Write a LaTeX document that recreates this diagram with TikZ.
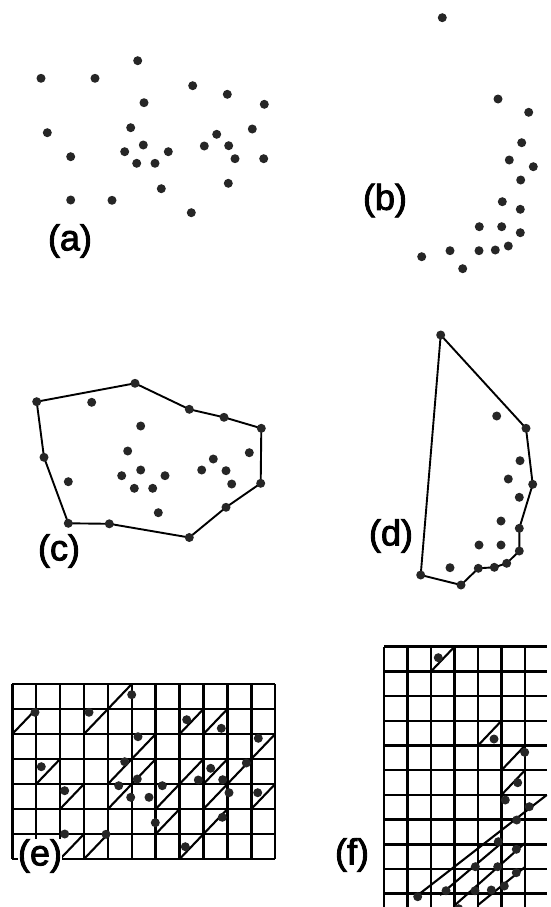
\documentclass[tikz,border=0pt]{standalone}
\usepackage{fontspec}
\setmainfont{Liberation Sans}
\newcommand{\heavytext}[1]{\special{pdf:literal 2 Tr 0.9 w}#1\special{pdf:literal 0 Tr}}
\begin{document}
\begin{tikzpicture}[x=1pt,y=-1pt,
  dot/.style={fill=black!85},
  hull/.style={line width=1.9pt,line join=round},
  gridl/.style={line width=2.5pt},
  diag/.style={line width=2.1pt},
  lab/.style={inner sep=0pt,font=\fontsize{36}{40}\selectfont}]
\useasboundingbox (0,0) rectangle (551,907);
% ---------- (a)
\foreach \x/\y in {137.7/60.7,41/78.3,95/78.3,192.7/85.7,227.3/94.3,264.3/104.3,144/102.7,
  47.3/132.7,130.7/127.7,252.3/129,216.7/134.3,143.3/145,124.7/151.7,168.3/151.7,204.3/146,
  228.7/145.7,70.7/156.7,136.7/163.3,155/163.3,235/158.7,263.7/158.7,228.3/183.3,161.3/188.7,
  70.7/200,112/200.3,191.3/212.7}
  \fill[dot] (\x,\y) circle (4.5);
\node[lab] (la) at (70,241) {\heavytext{(a)}};
% ---------- (b)
\foreach \x/\y in {442.3/17.7,498/99,528.7/112.3,521.7/142.7,509.3/160,533.3/166.7,520.7/180,
  502.3/201.7,520.3/209.3,479.3/226.7,501.7/226.7,520.3/232.7,508.3/246,495.3/250,479/250.7,
  450/250.7,421.7/256.7,462.7/268.7}
  \fill[dot] (\x,\y) circle (4.5);
\node[lab] (lb) at (385,200.5) {\heavytext{(b)}};
% ---------- (c)
\draw[hull] (36.7,401.7) -- (135,383.3) -- (189.3,409.3) -- (224,417.3) -- (261.3,428.3)
  -- (260.7,483.3) -- (226,507.3) -- (189.3,537.5) -- (109.3,523.8) -- (68.3,523.3)
  -- (44,457.3) -- cycle;
\foreach \x/\y in {36.7/401.7,135/383.3,189.3/409.3,224/417.3,261.3/428.3,260.7/483.3,
  226/507.3,189.3/537.5,109.3/523.8,68.3/523.3,44/457.3,91.7/402.3,
  140.7/426,127.7/451,140.7/470,121.7/475.7,165/475.7,134.3/488.3,152.7/488.3,68.3/481.7,
  158.3/512.7,213.3/459,249.3/452.7,201.7/470,226/470.7,231.7/484}
  \fill[dot] (\x,\y) circle (4.5);
\node[lab] (lc) at (59,551) {\heavytext{(c)}};
% ---------- (d)
\draw[hull] (440.7,335) -- (526,428.3) -- (532.7,484.3) -- (519.3,528.3) -- (519.3,551)
  -- (506.7,563.3) -- (494.3,567.3) -- (478.3,568.3) -- (461,585) -- (420.7,575) -- cycle;
\foreach \x/\y in {440.7/335,526/428.3,532.7/484.3,519.3/528.3,519.3/551,506.7/563.3,
  494.3/567.3,478.3/568.3,461/585,420.7/575,496.7/416,520/460.7,508.3/479,519.3/497.3,
  501/521,479/545,501/545,450/567.7}
  \fill[dot] (\x,\y) circle (4.5);
\node[lab] (ld) at (391,536) {\heavytext{(d)}};
% ---------- (e) grid
\foreach \i in {0,...,11}
  \draw[gridl] ({12.3+23.9*\i},684) -- ({12.3+23.9*\i},859);
\foreach \j in {0,...,7}
  \draw[gridl] (12.3,{684+25*\j}) -- (275.2,{684+25*\j});
\foreach \i/\j in {0/1,3/1,4/0,7/1,8/1,10/2,4/3,5/2,1/3,2/4,4/4,5/3,7/3,8/3,9/3,6/4,8/4,10/4,
  8/5,6/5,2/6,3/6,7/6}
  \draw[diag] ({12.3+23.9*\i},{684+25*(\j+1)}) -- ({12.3+23.9*(\i+1)},{684+25*\j});
\foreach \x/\y in {137.7/60.7,41/78.3,95/78.3,192.7/85.7,227.3/94.3,264.3/104.3,144/102.7,
  47.3/132.7,130.7/127.7,252.3/129,216.7/134.3,143.3/145,124.7/151.7,168.3/151.7,204.3/146,
  228.7/145.7,70.7/156.7,136.7/163.3,155/163.3,235/158.7,263.7/158.7,228.3/183.3,161.3/188.7,
  70.7/200,112/200.3,191.3/212.7}
  \fill[dot] ({\x-6},{\y+634}) circle (4.5);
\node[lab,fill=white] (le) at (40,856) {\heavytext{(e)}};
% ---------- (f) grid
\foreach \i in {0,...,6}
  \draw[gridl] ({384+23.5*\i},646.7) -- ({384+23.5*\i},907);
\foreach \j in {0,...,10}
  \draw[gridl] (384,{646.7+24.7*\j}) -- (547,{646.7+24.7*\j});
\foreach \i/\j in {2/0,4/3,5/4,5/5}
  \draw[diag] ({384+23.5*\i},{646.7+24.7*(\j+1)}) -- ({384+23.5*(\i+1)},{646.7+24.7*\j});
\draw[diag] (546.7,795) -- (418,895);
\draw[diag] (501.5,843) -- (440,895);
\draw[diag] (525,843) -- (455,905);
\draw[diag] (525,867) -- (478,905);
\foreach \x/\y in {442.3/17.7,498/99,528.7/112.3,521.7/142.7,509.3/160,533.3/166.7,520.7/180,
  502.3/201.7,520.3/209.3,479.3/226.7,501.7/226.7,520.3/232.7,508.3/246,495.3/250,479/250.7,
  450/250.7,421.7/256.7,462.7/268.7}
  \fill[dot] ({\x-4},{\y+640}) circle (4.5);
\node[lab] (lf) at (352,855) {\heavytext{(f)}};
\end{tikzpicture}
\end{document}
